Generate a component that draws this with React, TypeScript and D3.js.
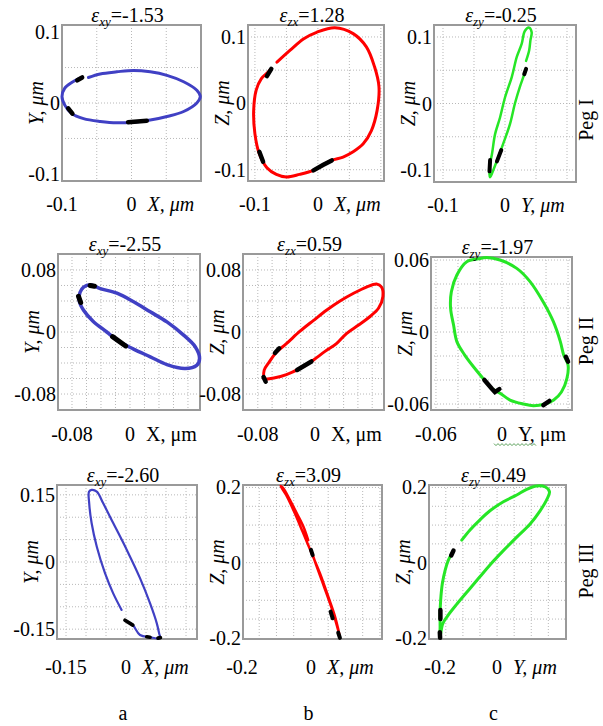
import * as d3 from "d3";
import React from "react";

type Pt = [number, number];

// strain values printed over each orbit (rows: Peg I, II, III)
const epsXY = [-1.53, -2.55, -2.6];
const epsZX = [1.28, 0.59, 3.09];
const epsZY = [-0.25, -1.97, 0.49];

const planeSubs = ["xy", "zx", "zy"];
const hAxisNames = ["X", "X", "Y"];
const vAxisNames = ["Y", "Z", "Z"];
const pegNames = ["Peg I", "Peg II", "Peg III"];
const columnLetters = ["a", "b", "c"];

// tick labels
const ticksPeg1 = [0.1, 0, -0.1];
const ticksPeg2ab = [0.08, 0, -0.08];
const ticksPeg2c = [0.06, 0, -0.06];
const ticksPeg3a = [0.15, 0, -0.15];
const ticksPeg3bc = [0.2, 0, -0.2];

// grid lines
const gridA1 = [-0.05, 0, 0.05];
const gridPeg1 = [-0.1, -0.05, 0, 0.05, 0.1];
const gridPeg2ab = [-0.08, -0.06, -0.04, -0.02, 0, 0.02, 0.04, 0.06, 0.08];
const gridPeg2c = [-0.06, -0.04, -0.02, 0, 0.02, 0.04, 0.06];
const gridPeg3a = [-0.15, -0.1, -0.05, 0, 0.05, 0.1, 0.15];
const gridPeg3bc = [-0.15, -0.1, -0.05, 0, 0.05, 0.1, 0.15, 0.2];
const gridPeg3cX = [-0.18, -0.12, -0.06, 0, 0.06, 0.12, 0.18];

// orbits, µm
const orbitA1: Pt[] = [[-0.062,0.036],[-0.045,0.041],[-0.021,0.044],[0.003,0.046],[0.027,0.044],[0.051,0.039],[0.075,0.030],[0.094,0.018],[0.099,0.009],[0.094,0.000],[0.075,-0.012],[0.051,-0.019],[0.027,-0.024],[0.003,-0.027],[-0.021,-0.028],[-0.045,-0.026],[-0.069,-0.022],[-0.086,-0.015],[-0.096,-0.003],[-0.1,0.009],[-0.096,0.021],[-0.086,0.029],[-0.074,0.035]];
const marksA1: Pt[][] = [[[-0.078,0.032],[-0.071,0.036]],[[-0.091,-0.0075],[-0.085,-0.015]],[[-0.005,-0.027],[0.022,-0.025]]];

const orbitB1: Pt[] = [[-0.065,0.062],[-0.044,0.080],[-0.023,0.097],[-0.002,0.107],[0.027,0.114],[0.056,0.105],[0.077,0.085],[0.090,0.055],[0.097,0.025],[0.094,-0.011],[0.085,-0.041],[0.072,-0.061],[0.056,-0.073],[0.040,-0.081],[0.022,-0.086],[0.008,-0.093],[-0.007,-0.101],[-0.029,-0.107],[-0.050,-0.111],[-0.066,-0.107],[-0.081,-0.097],[-0.093,-0.076],[-0.100,-0.046],[-0.102,-0.011],[-0.098,0.020],[-0.090,0.037],[-0.079,0.047],[-0.074,0.052]];
const marksB1: Pt[][] = [[[-0.081,0.041],[-0.074,0.052]],[[-0.093,-0.073],[-0.087,-0.088]],[[-0.007,-0.101],[0.008,-0.093],[0.022,-0.086]]];

const orbitC1: Pt[] = [[0.034,0.064],[0.039,0.080],[0.041,0.095],[0.043,0.107],[0.039,0.114],[0.032,0.109],[0.027,0.090],[0.019,0.070],[0.011,0.040],[0.000,0.009],[-0.008,-0.021],[-0.016,-0.046],[-0.021,-0.076],[-0.025,-0.096],[-0.024,-0.111],[-0.018,-0.098],[-0.011,-0.081],[-0.002,-0.058],[0.008,-0.031],[0.016,0.000],[0.024,0.025],[0.030,0.041],[0.033,0.050]];
const marksC1: Pt[][] = [[[-0.024,-0.085],[-0.025,-0.102]],[[-0.013,-0.087],[-0.006,-0.070]],[[0.031,0.044],[0.034,0.052]]];

const orbitA2: Pt[] = [[-0.064,0.058],[-0.055,0.061],[-0.041,0.056],[-0.018,0.050],[0.005,0.039],[0.028,0.026],[0.051,0.013],[0.074,-0.004],[0.090,-0.019],[0.096,-0.034],[0.092,-0.043],[0.076,-0.047],[0.051,-0.042],[0.028,-0.032],[0.005,-0.022],[-0.014,-0.013],[-0.032,0.000],[-0.051,0.014],[-0.064,0.028],[-0.070,0.040],[-0.069,0.051]];
const marksA2: Pt[][] = [[[-0.055,0.060],[-0.049,0.059]],[[-0.071,0.046],[-0.068,0.038]],[[-0.024,-0.006],[-0.006,-0.018]]];

const orbitB2: Pt[] = [[-0.070,-0.060],[-0.071,-0.049],[-0.065,-0.040],[-0.054,-0.026],[-0.040,-0.015],[-0.021,0.001],[-0.002,0.015],[0.016,0.028],[0.035,0.040],[0.054,0.050],[0.072,0.058],[0.086,0.062],[0.093,0.058],[0.095,0.046],[0.089,0.031],[0.077,0.020],[0.061,0.009],[0.044,-0.002],[0.030,-0.015],[0.014,-0.025],[-0.005,-0.038],[-0.021,-0.047],[-0.040,-0.055],[-0.056,-0.059]];
const marksB2: Pt[][] = [[[-0.072,-0.058],[-0.069,-0.064]],[[-0.056,-0.027],[-0.050,-0.021]],[[-0.025,-0.049],[-0.005,-0.038]]];

const orbitC2: Pt[] = [[-0.0215,0.061],[-0.032,0.0586],[-0.041,0.0475],[-0.046,0.0336],[-0.0467,0.0197],[-0.044,0.0058],[-0.041,-0.008],[-0.034,-0.019],[-0.025,-0.030],[-0.016,-0.040],[-0.0094,-0.047],[-0.0018,-0.051],[0.0073,-0.0567],[0.0194,-0.060],[0.0285,-0.0614],[0.039,-0.060],[0.047,-0.0567],[0.054,-0.050],[0.059,-0.0386],[0.060,-0.0275],[0.056,-0.019],[0.053,-0.008],[0.0467,0.0086],[0.0375,0.025],[0.0255,0.042],[0.0134,0.053],[-0.0018,0.060],[-0.014,0.062]];
const marksC2: Pt[][] = [[[-0.016,-0.040],[-0.0094,-0.047],[-0.0064,-0.050],[-0.0024,-0.0475]],[[0.0376,-0.061],[0.043,-0.0575]],[[0.058,-0.0206],[0.060,-0.0247]]];

const orbitA3: Pt[] = [[-0.0025,-0.130],[0.017,-0.141],[0.035,-0.163],[0.060,-0.168],[0.085,-0.170],[0.083,-0.160],[0.077,-0.137],[0.060,-0.092],[0.035,-0.036],[0.002,0.027],[-0.032,0.087],[-0.057,0.131],[-0.073,0.157],[-0.086,0.161],[-0.0925,0.157],[-0.092,0.131],[-0.086,0.087],[-0.073,0.034],[-0.0525,-0.025],[-0.032,-0.070],[-0.011,-0.107]];
const marksA3: Pt[][] = [[[-0.0025,-0.130],[0.017,-0.141]],[[0.052,-0.167],[0.060,-0.168]],[[0.080,-0.170],[0.086,-0.169]]];

const orbitB3: Pt[] = [[-0.008,0.060],[-0.022,0.096],[-0.041,0.131],[-0.061,0.167],[-0.080,0.198],[-0.088,0.204],[-0.072,0.180],[-0.049,0.136],[-0.024,0.082],[0.002,0.025],[0.026,-0.028],[0.050,-0.090],[0.070,-0.144],[0.084,-0.197],[0.076,-0.170],[0.060,-0.121],[0.038,-0.064],[0.017,-0.011],[0.002,0.029]];
const marksB3: Pt[][] = [[[0.000,0.034],[0.005,0.020]],[[0.057,-0.130],[0.063,-0.148]],[[0.079,-0.186],[0.084,-0.200]]];

const orbitC3: Pt[] = [[-0.124,0.060],[-0.095,0.087],[-0.060,0.114],[-0.025,0.138],[0.022,0.162],[0.069,0.180],[0.104,0.195],[0.139,0.204],[0.168,0.202],[0.184,0.189],[0.174,0.167],[0.151,0.138],[0.116,0.103],[0.069,0.068],[0.022,0.032],[-0.025,-0.006],[-0.062,-0.039],[-0.101,-0.074],[-0.141,-0.110],[-0.174,-0.142],[-0.191,-0.163],[-0.200,-0.197],[-0.2,-0.170],[-0.2,-0.135],[-0.198,-0.099],[-0.192,-0.055],[-0.182,-0.019],[-0.171,0.007],[-0.155,0.029]];
const marksC3: Pt[][] = [[[-0.161,0.019],[-0.153,0.032]],[[-0.199,-0.126],[-0.199,-0.150]],[[-0.201,-0.185],[-0.200,-0.200]]];

const BLUE = "#4040c4";
const RED = "#ff0000";
const GREEN = "#26e626";
const FONT = "'Liberation Serif', 'Times New Roman', serif";

// layout: box = [left, right, top, bottom] in px
const panels = [
  { orbit: orbitA1, marks: marksA1, closed: false, color: BLUE, lw: 3, eps: epsXY[0], col: 0, row: 0, box: [62, 201, 25, 181], xDom: [-0.1, 0.1], yDom: [-0.11, 0.11], xGrid: gridA1, yGrid: gridA1, ticks: ticksPeg1 },
  { orbit: orbitB1, marks: marksB1, closed: false, color: RED, lw: 3, eps: epsZX[0], col: 1, row: 0, box: [248, 384, 25, 181], xDom: [-0.111, 0.105], yDom: [-0.117, 0.118], xGrid: gridPeg1, yGrid: gridPeg1, ticks: ticksPeg1 },
  { orbit: orbitC1, marks: marksC1, closed: false, color: GREEN, lw: 2.5, eps: epsZY[0], col: 2, row: 0, box: [434, 576, 25, 182], xDom: [-0.1145, 0.1145], yDom: [-0.118, 0.118], xGrid: gridPeg1, yGrid: gridPeg1, ticks: ticksPeg1 },
  { orbit: orbitA2, marks: marksA2, closed: true, color: BLUE, lw: 3.5, eps: epsXY[1], col: 0, row: 1, box: [58, 200, 254, 410], xDom: [-0.0993, 0.0966], yDom: [-0.1006, 0.1006], xGrid: gridPeg2ab, yGrid: gridPeg2ab, ticks: ticksPeg2ab },
  { orbit: orbitB2, marks: marksB2, closed: true, color: RED, lw: 3, eps: epsZX[1], col: 1, row: 1, box: [243, 384, 254, 410], xDom: [-0.1007, 0.0965], yDom: [-0.1006, 0.1006], xGrid: gridPeg2ab, yGrid: gridPeg2ab, ticks: ticksPeg2ab },
  { orbit: orbitC2, marks: marksC2, closed: true, color: GREEN, lw: 3, eps: epsZY[1], col: 2, row: 1, box: [431, 572, 257, 410], xDom: [-0.0645, 0.0636], yDom: [-0.065, 0.0625], xGrid: gridPeg2c, yGrid: gridPeg2c, ticks: ticksPeg2c },
  { orbit: orbitA3, marks: marksA3, closed: false, color: BLUE, lw: 2.2, eps: epsXY[2], col: 0, row: 2, box: [57, 197, 485, 639], xDom: [-0.1725, 0.1775], yDom: [-0.172, 0.172], xGrid: gridPeg3a, yGrid: gridPeg3a, ticks: ticksPeg3a },
  { orbit: orbitB3, marks: marksB3, closed: false, color: RED, lw: 2.5, eps: epsZX[2], col: 1, row: 2, box: [243, 382, 485, 639], xDom: [-0.197, 0.206], yDom: [-0.203, 0.2066], xGrid: gridPeg3bc, yGrid: gridPeg3bc, ticks: ticksPeg3bc },
  { orbit: orbitC3, marks: marksC3, closed: false, color: GREEN, lw: 3, eps: epsZY[2], col: 2, row: 2, box: [429, 566, 485, 639], xDom: [-0.239, 0.242], yDom: [-0.203, 0.2066], xGrid: gridPeg3cX, yGrid: gridPeg3bc, ticks: ticksPeg3bc },
];

const xLabelOffset = [30, 31, 35];
const pegY = [120, 341, 571];

function Panel({ p }: { p: (typeof panels)[number] }) {
  const [x0, x1, y0, y1] = p.box;
  const x = d3.scaleLinear().domain(p.xDom).range([x0, x1]);
  const y = d3.scaleLinear().domain(p.yDom).range([y1, y0]);
  const curve = p.closed ? d3.curveCatmullRomClosed.alpha(0.5) : d3.curveCatmullRom.alpha(0.5);
  const line = d3.line<Pt>().x(d => x(d[0])).y(d => y(d[1])).curve(curve);
  const markLine = d3.line<Pt>().x(d => x(d[0])).y(d => y(d[1]));
  const cx = (x0 + x1) / 2;
  const cy = (y0 + y1) / 2;
  const italicX = p.row !== 1;
  const labelY = y1 + xLabelOffset[p.row];

  // the spell-checker squiggle under "0 Y," in the Peg II / c caption
  let squiggle = "";
  if (p.row === 1 && p.col === 2) {
    const zx = x(0);
    squiggle = d3.line<number>()
      .x(t => zx - 8 + t * 2)
      .y((t, i) => labelY + 3 + (i % 2 ? 1.6 : -0.4))(d3.range(22)) ?? "";
  }

  return (
    <g>
      <rect x={x0} y={y0} width={x1 - x0} height={y1 - y0} fill="#fff" />
      {p.xGrid.map(v => (
        <line key={"gx" + v} x1={x(v)} x2={x(v)} y1={y0} y2={y1} stroke="#b8b8b8" strokeWidth={1} strokeDasharray="1,2" />
      ))}
      {p.yGrid.map(v => (
        <line key={"gy" + v} x1={x0} x2={x1} y1={y(v)} y2={y(v)} stroke="#b8b8b8" strokeWidth={1} strokeDasharray="1,2" />
      ))}
      <rect x={x0} y={y0} width={x1 - x0} height={y1 - y0} fill="none" stroke="#9a9a9a" strokeWidth={2} />

      <path d={line(p.orbit) ?? ""} fill="none" stroke={p.color} strokeWidth={p.lw} strokeLinejoin="round" strokeLinecap="round" />
      {p.marks.map((m, i) => (
        <path key={"m" + i} d={markLine(m) ?? ""} fill="none" stroke="#000" strokeWidth={p.lw + 1.5} strokeLinecap="round" />
      ))}

      <text x={cx - 4} y={y0 - 3} textAnchor="middle" fontSize={20}>
        <tspan fontStyle="italic">ε</tspan>
        <tspan fontStyle="italic" fontSize={13} dy={4}>{planeSubs[p.col]}</tspan>
        <tspan dy={-4}>={p.eps.toFixed(2)}</tspan>
      </text>

      {p.ticks.map(v => (
        <text key={"ty" + v} x={x0 - 2} y={y(v)} dy="0.35em" textAnchor="end" fontSize={20}>{String(v)}</text>
      ))}
      {p.ticks.filter(v => v <= 0).map(v => (
        <text key={"tx" + v} x={x(v)} y={labelY} textAnchor="middle" fontSize={20}>{String(v)}</text>
      ))}
      <text x={x(0) + 16} y={labelY} fontSize={20} fontStyle={italicX ? "italic" : "normal"}>
        {hAxisNames[p.col]}, μm
      </text>
      {squiggle && <path d={squiggle} fill="none" stroke="#5aa05a" strokeWidth={1} />}
      <text transform={`translate(${x0 - 26},${cy}) rotate(-90)`} dy="0.35em" textAnchor="middle" fontSize={20} fontStyle="italic">
        {vAxisNames[p.col]}, μm
      </text>
    </g>
  );
}

export default function App() {
  const bottomRow = panels.filter(p => p.row === 2);
  return (
    <>
      <style>{"body{margin:0;background:#fff}"}</style>
      <svg width={603} height={726} style={{ display: "block", fontFamily: FONT }} fill="#000">
        <rect width={603} height={726} fill="#fff" />
        {panels.map((p, i) => <Panel key={i} p={p} />)}
        {pegNames.map((name, i) => (
          <text key={name} transform={`translate(586,${pegY[i]}) rotate(-90)`} dy="0.35em" textAnchor="middle" fontSize={20}>{name}</text>
        ))}
        {bottomRow.map((p, i) => (
          <text key={columnLetters[i]} x={(p.box[0] + p.box[1]) / 2 - 4} y={720} textAnchor="middle" fontSize={20}>{columnLetters[i]}</text>
        ))}
      </svg>
    </>
  );
}
